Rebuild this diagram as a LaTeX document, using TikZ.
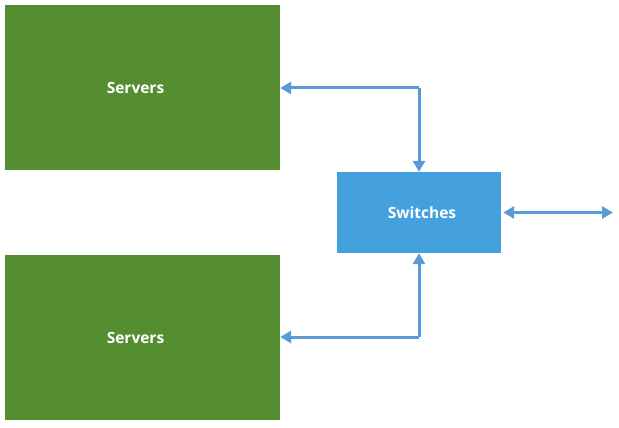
\documentclass[tikz,border=0pt]{standalone}
\usepackage{fontspec}
\setmainfont{Open Sans}
\usetikzlibrary{arrows.meta}
\definecolor{srvgreen}{RGB}{84,142,49}
\definecolor{swblue}{RGB}{69,161,222}
\definecolor{arrblue}{RGB}{91,155,213}
\tikzset{
  srv/.style={fill=srvgreen, draw=none, minimum width=275pt, minimum height=165pt, inner sep=0pt, text=white, font=\fontsize{15.5}{18}\selectfont\bfseries},
  sw/.style={fill=swblue, draw=none, minimum width=164pt, minimum height=81pt, inner sep=0pt, text=white, font=\fontsize{15.5}{18}\selectfont\bfseries},
  conn/.style={draw=arrblue, line width=3pt, -{Triangle[width=12pt,length=11pt]}},
  conn2/.style={draw=arrblue, line width=3pt, {Triangle[width=12pt,length=11pt]}-{Triangle[width=12pt,length=11pt]}}
}
\begin{document}
\begin{tikzpicture}[x=1pt,y=-1pt]
\useasboundingbox (0,0) rectangle (619,428);
\node[srv] (s1) at (142.5,87.5) {\hspace*{-14pt}Servers};
\node[srv] (s2) at (142.5,337.5) {\hspace*{-14pt}Servers};
\node[sw] (sw) at (419,212.5) {\hspace*{6pt}Switches};
\coordinate (c1) at (419,88);
\coordinate (c2) at (419,337);
\coordinate (ext) at (613,212.5);
\draw[conn] (c1) -- (s1.east |- c1);
\draw[conn] (c1) -- (sw.north);
\draw[conn] (c2) -- (s2.east |- c2);
\draw[conn] (c2) -- (sw.south);
\draw[conn2] ([xshift=2pt]sw.east) -- (ext);
\end{tikzpicture}
\end{document}
